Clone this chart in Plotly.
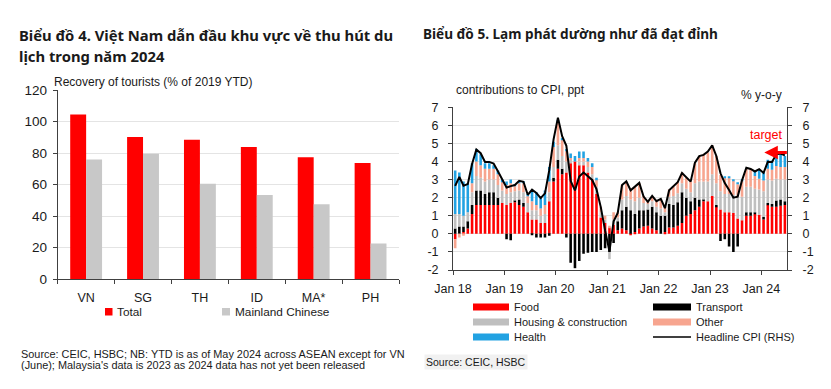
import plotly.graph_objects as go

W, H = 831, 389


def px(x):
    return x / W


def py(y):
    return 1 - y / H


# ---------------- Chart 4 data ----------------
countries = ["VN", "SG", "TH", "ID", "MA*", "PH"]
total = [104.5, 90.2, 88.5, 83.9, 77.3, 73.8]
mainland_chinese = [76.0, 79.6, 60.6, 53.4, 47.6, 22.7]

# ---------------- Chart 5 data (Jan 2018 - Jun 2024) ----------------
months = [f"{y}-{m:02d}" for y in range(2018, 2025) for m in range(1, 13)][:78]

headline = [
    2.65, 3.15, 2.66, 2.75, 3.86, 4.67, 4.46, 3.98, 3.98, 3.89, 3.46, 2.98,
    2.56, 2.64, 2.70, 2.93, 2.88, 2.16, 2.44, 2.26, 1.98, 2.24, 3.52, 5.23,
    6.43, 5.40, 4.87, 2.93, 2.40, 3.17, 3.39, 3.18, 2.98, 2.47, 1.48, 0.19,
    -0.97, 0.70, 1.16, 2.70, 2.90, 2.41, 2.64, 2.82, 2.06, 1.77, 2.10, 1.81,
    1.94, 1.42, 2.41, 2.64, 2.86, 3.37, 3.14, 2.89, 3.94, 4.30, 4.37, 4.55,
    4.89, 4.31, 3.35, 2.81, 2.43, 2.00, 2.06, 2.96, 3.66, 3.59, 3.45, 3.58,
    3.37, 3.98, 3.97, 4.40, 4.44, 4.34,
]
food = [
    -0.3, 0.0, 0.1, 0.3, 1.1, 1.6, 1.6, 1.6, 1.6, 1.6, 1.6, 1.7,
    1.6, 1.7, 1.75, 1.6, 1.5, 1.2, 0.8, 0.8, 0.6, 0.6, 1.8, 2.9,
    3.6, 3.3, 3.4, 3.9, 4.0, 3.8, 3.8, 3.4, 3.0, 2.2, 0.9, 0.6,
    0.35, 0.5, 0.2, 0.3, 0.2, -0.05, 0.1, 0.3, 0.4, 0.45, 0.3, 0.2,
    0.0, 0.1, 0.35, 0.35, 0.45, 0.6, 1.0, 1.1, 1.3, 1.5, 1.8, 1.8,
    2.1, 1.5, 1.35, 1.2, 1.2, 1.15, 0.85, 0.75, 1.0, 1.0, 1.1, 1.05,
    0.8, 1.6, 1.5, 1.5, 1.55, 1.6,
]
transport = [
    0.3, 0.4, 0.3, 0.4, 0.5, 0.8, 0.8, 0.6, 0.7, 0.7, 0.4, 0.0,
    -0.3, -0.35, 0.1, 0.3, 0.2, 0.0, -0.05, -0.2, -0.2, -0.2, -0.1, 0.2,
    0.5, 0.3, -0.2, -1.6, -1.9, -1.5, -1.1, -1.05, -1.0, -1.0, -0.9, -0.8,
    -1.0, -0.5, 0.5, 1.0, 1.3, 1.3, 1.0, 1.0, 0.9, 0.9, 1.2, 1.0,
    1.0, 0.9, 1.3, 1.25, 1.3, 1.7, 1.0, 0.7, 0.7, 0.4, 0.1, 0.0,
    0.0, 0.1, -0.4, -0.3, -0.7, -1.0, -0.7, 0.0, 0.2, 0.2, 0.1, 0.0,
    0.15, 0.1, 0.15, 0.35, 0.35, 0.2,
]
housing = [
    0.8, 0.7, 0.6, 0.5, 0.7, 0.8, 0.7, 0.7, 0.7, 0.7, 0.7, 0.7,
    0.6, 0.6, 0.5, 0.5, 0.6, 0.5, 0.5, 0.5, 0.4, 0.5, 0.5, 0.6,
    0.8, 0.7, 0.6, 0.2, 0.0, 0.2, 0.2, 0.3, 0.3, 0.4, 0.3, 0.2,
    -0.4, 0.3, 0.2, 0.6, 0.6, 0.6, 0.7, 0.7, 0.4, 0.3, 0.3, 0.3,
    0.4, 0.2, 0.4, 0.5, 0.5, 0.5, 0.5, 0.5, 0.8, 1.0, 1.0, 1.1,
    1.2, 1.2, 1.0, 1.0, 1.0, 1.0, 1.2, 1.3, 1.4, 1.4, 1.3, 1.4,
    1.4, 1.3, 1.3, 1.2, 1.1, 1.2,
]
other = [
    -0.5, -0.2, -0.1, 0.0, 0.5, 0.8, 0.7, 0.7, 0.6, 0.6, 0.6, 0.5,
    0.5, 0.5, 0.3, 0.4, 0.5, 0.4, 0.5, 0.3, 0.4, 0.5, 0.6, 1.1,
    1.3, 0.9, 0.6, 0.1, 0.0, 0.2, 0.2, 0.3, 0.4, 0.4, 0.3, 0.2,
    0.1, 0.4, 0.3, 0.8, 0.8, 0.6, 0.8, 0.8, 0.4, 0.2, 0.3, 0.3,
    0.5, 0.3, 0.4, 0.5, 0.6, 0.6, 0.6, 0.6, 1.1, 1.4, 1.5, 1.6,
    1.6, 1.5, 0.9, 0.9, 0.9, 0.8, 0.7, 0.9, 1.0, 1.0, 0.7, 0.6,
    0.6, 0.6, 0.6, 0.7, 0.7, 0.7,
]
health = [
    2.4, 2.3, 1.9, 1.6, 1.1, 0.7, 0.6, 0.3, 0.3, 0.2, 0.2, 0.1,
    0.2, 0.2, 0.1, 0.1, 0.1, 0.1, 0.6, 0.7, 0.7, 0.8, 0.8, 0.3,
    0.1, 0.1, 0.1, 0.25, 0.3, 0.35, 0.35, 0.2, 0.2, 0.1, 0.0, 0.0,
    0.0, 0.0, 0.0, 0.0, 0.0, 0.0, 0.0, 0.0, 0.0, 0.0, 0.0, 0.0,
    0.0, 0.0, 0.0, 0.0, 0.0, 0.0, 0.0, 0.0, 0.0, 0.0, 0.0, 0.0,
    0.0, 0.0, 0.0, 0.05, 0.05, 0.05, 0.05, 0.05, 0.0, 0.0, 0.3, 0.5,
    0.5, 0.5, 0.5, 0.7, 0.7, 0.6,
]
TARGET = 4.5

year_ticks = ["2018-01-01", "2019-01-01", "2020-01-01", "2021-01-01",
              "2022-01-01", "2023-01-01", "2024-01-01"]
year_labels = ["Jan 18", "Jan 19", "Jan 20", "Jan 21", "Jan 22", "Jan 23", "Jan 24"]
y_ticks = [-2, -1, 0, 1, 2, 3, 4, 5, 6, 7]
y_labels = ["-2", "-1", "0", "1", "2", "3", "4", "5", "6", "7"]

RED = "#FF0000"
LGREY = "#C8C8C8"
BLACK = "#000000"
HGREY = "#BFBFBF"
SALMON = "#F7A58F"
BLUE = "#22A2E2"
FONT = "Liberation Sans, Arial, sans-serif"
TFONT = "Noto Sans, Open Sans, sans-serif"
TXT = "#1a1a1a"

fig = go.Figure()

# Chart 4 bars
fig.add_trace(go.Bar(x=countries, y=total, marker_color=RED, width=0.28, offset=-0.28,
                     xaxis="x", yaxis="y", marker_line_width=0, name="Total"))
fig.add_trace(go.Bar(x=countries, y=mainland_chinese, marker_color=LGREY, width=0.28, offset=0,
                     xaxis="x3", yaxis="y", marker_line_width=0, name="Mainland Chinese"))

# Chart 5 stacked bars
for name, vals, col in [("Food", food, RED), ("Transport", transport, BLACK),
                        ("Housing & construction", housing, HGREY),
                        ("Other", other, SALMON), ("Health", health, BLUE)]:
    fig.add_trace(go.Bar(x=months, y=vals, name=name, marker_color=col, marker_line_width=0,
                         xperiod="M1", xperiodalignment="middle",
                         xaxis="x2", yaxis="y2"))
fig.add_trace(go.Scatter(x=months, y=headline, name="Headline CPI (RHS)", mode="lines",
                         line=dict(color=BLACK, width=2),
                         xperiod="M1", xperiodalignment="middle",
                         xaxis="x2", yaxis="y3"))

axis_common = dict(showline=True, linecolor="#404040", linewidth=1, ticks="outside",
                   ticklen=4, tickcolor="#404040", zeroline=False, automargin=False)

fig.update_layout(
    width=W, height=H, autosize=False,
    margin=dict(l=0, r=0, t=0, b=0, pad=0, autoexpand=False),
    paper_bgcolor="white", plot_bgcolor="white",
    showlegend=False, barmode="relative", bargap=0.38,
    font=dict(family=FONT, color=TXT, size=12),
    xaxis=dict(domain=[px(57.7), px(399)], type="category", range=[-0.5, 5.5],
               categoryorder="array", categoryarray=countries, tickson="boundaries",
               tickfont=dict(size=12.5), ticklabelstandoff=7, anchor="y", **axis_common),
    xaxis3=dict(overlaying="x", type="category", range=[-0.5, 5.5], categoryorder="array",
                categoryarray=countries, visible=False, anchor="y"),
    yaxis=dict(domain=[py(279.3), py(90)], range=[0, 120], dtick=20, showgrid=True,
               gridcolor="#E4E4E4", tickfont=dict(size=13.5), ticklabelstandoff=3,
               anchor="x", **axis_common),
    xaxis2=dict(domain=[px(453), px(787)], type="date", range=["2018-01-01", "2024-07-01"],
                tickvals=year_ticks, ticktext=year_labels, showgrid=False,
                tickfont=dict(size=12.5), ticklabelstandoff=3, anchor="y2", **axis_common),
    yaxis2=dict(domain=[py(270), py(107.3)], range=[-2, 7], tickvals=y_ticks, ticktext=y_labels,
                showgrid=True, gridcolor="#E2E2E2", tickfont=dict(size=12.5),
                ticklabelstandoff=7, anchor="x2", **axis_common),
    yaxis3=dict(overlaying="y2", side="right", range=[-2, 7], tickvals=y_ticks, ticktext=y_labels,
                showgrid=False, tickfont=dict(size=12.5), ticklabelstandoff=8, anchor="x2",
                **axis_common),
)


def note(text, x, y, size, xanchor="left", color=TXT, family=FONT, **kw):
    fig.add_annotation(text=text, x=px(x), y=py(y), xref="paper", yref="paper",
                       xanchor=xanchor, yanchor="middle", showarrow=False,
                       font=dict(size=size, color=color, family=family), **kw)


# Titles
note("<b>Biểu đồ 4. Việt Nam dẫn đầu khu vực về thu hút du</b>", 17, 35, 14.8, family=TFONT)
note("<b>lịch trong năm 2024</b>", 17, 56, 14.8, family=TFONT)
note("<b>Biểu đồ 5. Lạm phát dường như đã đạt đỉnh</b>", 421, 34, 13.6, family=TFONT)

# Axis captions
note("Recovery of tourists (% of 2019 YTD)", 52, 82, 12)
note("contributions to CPI, ppt", 454, 90, 12)
note("% y-o-y", 784, 95, 12, xanchor="right")

# Sources
note("Source: CEIC, HSBC; NB: YTD is as of May 2024 across ASEAN except for VN", 19, 354, 10.9)
note("(June); Malaysia's data is 2023 as 2024 data has not yet been released", 19, 365, 10.9)
note("Source: CEIC, HSBC", 424, 362, 10.5, bgcolor="#F1F1F1")

# Legend chart 4
shapes = []


def rect(x0, x1, y0, y1, color):
    shapes.append(dict(type="rect", xref="paper", yref="paper", x0=px(x0), x1=px(x1),
                       y0=py(y1), y1=py(y0), fillcolor=color, line=dict(width=0)))


rect(105, 112.5, 308, 315.5, RED)
note("Total", 115, 312, 11.8)
rect(222, 230, 308, 315.5, LGREY)
note("Mainland Chinese", 232.5, 312, 11.8)

# Legend chart 5
rows = [307, 322, 337]
rect(473, 509, rows[0] - 3.5, rows[0] + 3.5, RED)
note("Food", 512, rows[0], 11)
rect(473, 509, rows[1] - 3.5, rows[1] + 3.5, HGREY)
note("Housing & construction", 512, rows[1], 11)
rect(473, 509, rows[2] - 3.5, rows[2] + 3.5, BLUE)
note("Health", 512, rows[2], 11)
rect(653, 691, rows[0] - 3.5, rows[0] + 3.5, BLACK)
note("Transport", 694, rows[0], 11)
rect(653, 691, rows[1] - 3.5, rows[1] + 3.5, SALMON)
note("Other", 694, rows[1], 11)
shapes.append(dict(type="line", xref="paper", yref="paper", x0=px(653), x1=px(691),
                   y0=py(rows[2]), y1=py(rows[2]), line=dict(color=BLACK, width=1.5)))
note("Headline CPI (RHS)", 694, rows[2], 11)

fig.update_layout(shapes=shapes)

# Target marker
note("target", 766, 135, 12.5, xanchor="center", color=RED)
fig.add_annotation(x="2024-01-22", y=TARGET, xref="x2", yref="y3", ax=24, ay=0,
                   text="", showarrow=True, arrowhead=2, arrowsize=0.9, arrowwidth=3,
                   arrowcolor=RED)

fig.write_html("out.html", config={"displayModeBar": False},
               post_script="document.body.style.margin='0px';")
